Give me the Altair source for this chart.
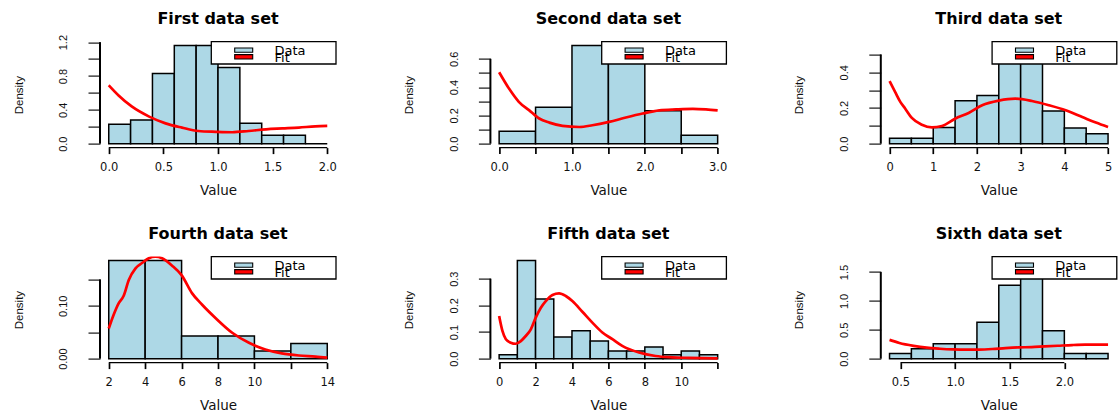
import altair as alt
import pandas as pd

TITLES = ["First data set", "Second data set", "Third data set",
          "Fourth data set", "Fifth data set", "Sixth data set"]
LEGEND_LABELS = ["Data", "Fit"]
X_TITLE = "Value"
Y_TITLE = "Density"

# Histogram breaks and bin densities
FIRST_BREAKS = [0.0, 0.2, 0.4, 0.6, 0.8, 1.0, 1.2, 1.4, 1.6, 1.8, 2.0]
FIRST_DENSITY = [0.23, 0.28, 0.83, 1.16, 1.16, 0.90, 0.24, 0.10, 0.10, 0.0]
SECOND_BREAKS = [0.0, 0.5, 1.0, 1.5, 2.0, 2.5, 3.0]
SECOND_DENSITY = [0.088, 0.258, 0.694, 0.67, 0.232, 0.059]
THIRD_BREAKS = [0.0, 0.5, 1.0, 1.5, 2.0, 2.5, 3.0, 3.5, 4.0, 4.5, 5.0]
THIRD_DENSITY = [0.03, 0.03, 0.09, 0.24, 0.27, 0.55, 0.46, 0.183, 0.088, 0.056]
FOURTH_BREAKS = [2, 4, 6, 8, 10, 12, 14]
FOURTH_DENSITY = [0.1857, 0.1857, 0.0429, 0.0429, 0.0143, 0.0286]
FIFTH_BREAKS = [0, 1, 2, 3, 4, 5, 6, 7, 8, 9, 10, 11, 12]
FIFTH_DENSITY = [0.015, 0.368, 0.224, 0.081, 0.105, 0.066, 0.029, 0.029,
                 0.044, 0.015, 0.029, 0.015]
SIXTH_BREAKS = [0.4, 0.6, 0.8, 1.0, 1.2, 1.4, 1.6, 1.8, 2.0, 2.2, 2.4]
SIXTH_DENSITY = [0.089, 0.171, 0.26, 0.26, 0.632, 1.27, 1.70, 0.484, 0.089, 0.089]

# Fitted density curves
FIRST_FIT_X = [0, 0.09, 0.21, 0.37, 0.52, 0.67, 0.82, 0.98, 1.13, 1.28, 1.44,
               1.59, 1.74, 1.89, 2.0]
FIRST_FIT_Y = [0.69, 0.57, 0.44, 0.32, 0.24, 0.19, 0.15, 0.14, 0.135, 0.15,
               0.17, 0.18, 0.19, 0.205, 0.21]
SECOND_FIT_X = [0, 0.14, 0.27, 0.41, 0.55, 0.69, 0.87, 1.1, 1.28, 1.51, 1.74,
                1.97, 2.2, 2.43, 2.66, 2.84, 3.0]
SECOND_FIT_Y = [0.505, 0.386, 0.296, 0.237, 0.178, 0.149, 0.126, 0.118, 0.13,
                0.154, 0.185, 0.213, 0.235, 0.242, 0.246, 0.242, 0.235]
THIRD_FIT_X = [0, 0.13, 0.25, 0.36, 0.51, 0.74, 0.97, 1.2, 1.5, 1.81, 2.12,
               2.5, 2.88, 3.26, 3.65, 4.03, 4.41, 4.72, 5.0]
THIRD_FIT_Y = [0.351, 0.289, 0.233, 0.196, 0.144, 0.106, 0.091, 0.099, 0.14,
               0.172, 0.215, 0.241, 0.252, 0.239, 0.215, 0.187, 0.149, 0.118, 0.093]
FOURTH_FIT_X = [2, 2.27, 2.55, 2.82, 3.1, 3.47, 3.83, 4.2, 4.56, 4.93, 5.48,
                6.0, 6.57, 7.13, 7.86, 8.78, 9.7, 10.6, 11.5, 12.44, 13.36, 14]
FOURTH_FIT_Y = [0.057, 0.083, 0.105, 0.119, 0.149, 0.171, 0.181, 0.19, 0.193,
                0.19, 0.176, 0.158, 0.124, 0.102, 0.077, 0.049, 0.03, 0.0175,
                0.01, 0.006, 0.004, 0.002]
FIFTH_FIT_X = [0, 0.18, 0.37, 0.64, 0.91, 1.19, 1.46, 1.74, 2.01, 2.29, 2.56,
               2.93, 3.29, 3.66, 4.02, 4.57, 5.12, 5.67, 6.22, 6.76, 7.68, 8.59,
               9.5, 10.4, 12]
FIFTH_FIT_Y = [0.16, 0.104, 0.073, 0.06, 0.056, 0.066, 0.085, 0.11, 0.154,
               0.191, 0.216, 0.239, 0.245, 0.235, 0.216, 0.176, 0.135, 0.098,
               0.073, 0.048, 0.023, 0.01, 0.005, 0.003, 0.001]
SIXTH_FIT_X = [0.4, 0.49, 0.62, 0.74, 0.86, 0.98, 1.1, 1.22, 1.34, 1.46, 1.58,
               1.7, 1.82, 1.94, 2.07, 2.19, 2.4]
SIXTH_FIT_Y = [0.325, 0.272, 0.222, 0.19, 0.172, 0.16, 0.155, 0.157, 0.167,
               0.183, 0.195, 0.2, 0.213, 0.224, 0.236, 0.242, 0.242]

# Axis ticks and which of them carry a label
X_TICKS = [[0, 0.5, 1, 1.5, 2], [0, 0.5, 1, 1.5, 2, 2.5, 3], [0, 1, 2, 3, 4, 5],
           [2, 4, 6, 8, 10, 12, 14], [0, 2, 4, 6, 8, 10, 12], [0.5, 1, 1.5, 2]]
X_LABELED = [[0, 0.5, 1, 1.5, 2], [0, 1, 2, 3], [0, 1, 2, 3, 4, 5],
             [2, 4, 6, 8, 10, 14], [0, 2, 4, 6, 8, 10], [0.5, 1, 1.5, 2]]
X_FORMATS = [".1f", ".1f", "d", "d", "d", ".1f"]
Y_TICKS = [[0, 0.2, 0.4, 0.6, 0.8, 1.0, 1.2], [0, 0.1, 0.2, 0.3, 0.4, 0.5, 0.6],
           [0, 0.1, 0.2, 0.3, 0.4, 0.5], [0, 0.05, 0.1, 0.15], [0, 0.1, 0.2, 0.3],
           [0, 0.5, 1, 1.5]]
Y_LABELED = [[0, 0.4, 0.8, 1.2], [0, 0.2, 0.4, 0.6], [0, 0.2, 0.4], [0, 0.1],
             [0, 0.1, 0.2, 0.3], [0, 0.5, 1, 1.5]]
Y_FORMATS = [".1f", ".1f", ".1f", ".2f", ".1f", ".1f"]

BREAKS = [FIRST_BREAKS, SECOND_BREAKS, THIRD_BREAKS, FOURTH_BREAKS, FIFTH_BREAKS, SIXTH_BREAKS]
DENSITY = [FIRST_DENSITY, SECOND_DENSITY, THIRD_DENSITY, FOURTH_DENSITY, FIFTH_DENSITY, SIXTH_DENSITY]
FIT_X = [FIRST_FIT_X, SECOND_FIT_X, THIRD_FIT_X, FOURTH_FIT_X, FIFTH_FIT_X, SIXTH_FIT_X]
FIT_Y = [FIRST_FIT_Y, SECOND_FIT_Y, THIRD_FIT_Y, FOURTH_FIT_Y, FIFTH_FIT_Y, SIXTH_FIT_Y]

W, H = 236, 106
WIDE = "DejaVu Sans"
NARROW = "Liberation Sans"
BAR_FILL = "#ADD8E6"


def label_expr(labeled):
    arr = ",".join(repr(float(v)) for v in labeled)
    return f"indexof([{arr}], datum.value) >= 0 ? datum.label : ''"


def panel(i):
    breaks, dens = BREAKS[i], DENSITY[i]
    bars = pd.DataFrame({"lo": breaks[:-1], "hi": breaks[1:], "density": dens})
    fit = pd.DataFrame({"lo": FIT_X[i], "density": FIT_Y[i]})

    span = breaks[-1] - breaks[0]
    top = max(dens)
    xscale = alt.Scale(domain=[breaks[0] - 0.04 * span, breaks[-1] + 0.04 * span],
                       nice=False, zero=False)
    yscale = alt.Scale(domain=[-0.04 * top, 1.04 * top], nice=False, zero=False)

    xaxis = alt.Axis(values=X_TICKS[i], format=X_FORMATS[i], labelExpr=label_expr(X_LABELED[i]),
                     domain=False, grid=False, tickSize=6, tickWidth=1.7, tickColor="black",
                     labelFont=WIDE, labelFontSize=11.5, labelColor="#111111",
                     labelBaseline="alphabetic", labelPadding=16.7, labelFlush=False,
                     labelOverlap=False, titleFont=WIDE, titleFontSize=13.5,
                     titleFontWeight="normal", titleColor="#111111", titleBaseline="alphabetic",
                     titleX=W / 2, titleY=47.3, titleAlign="center")
    yaxis = alt.Axis(values=Y_TICKS[i], format=Y_FORMATS[i], labelExpr=label_expr(Y_LABELED[i]),
                     domain=False, grid=False, tickSize=12, tickWidth=1.1, tickColor="black",
                     labelAngle=270, labelAlign="center", labelBaseline="alphabetic",
                     labelPadding=21.3, labelFont=NARROW, labelFontSize=11, labelColor="#111111",
                     labelFlush=False, labelOverlap=False, titleFont=NARROW, titleFontSize=11.5,
                     titleFontWeight="normal", titleColor="#111111", titleAngle=270,
                     titleAlign="center", titleBaseline="alphabetic", titleX=-78, titleY=H / 2)

    x = alt.X("lo:Q", scale=xscale, axis=xaxis, title=X_TITLE)
    y = alt.Y("density:Q", scale=yscale, axis=yaxis, title=Y_TITLE)

    hist = alt.Chart(bars).mark_rect(fill=BAR_FILL, stroke="black", strokeWidth=1.5).encode(
        x=x, x2="hi:Q", y=y, y2=alt.datum(0))
    curve = alt.Chart(fit).mark_line(color="red", strokeWidth=2.7, clip=True,
                                     interpolate="monotone").encode(x=x, y=y)

    xt, yt = X_TICKS[i], Y_TICKS[i]
    xline = alt.Chart(pd.DataFrame({"lo": [xt[0]], "hi": [xt[-1]]})).mark_rule(
        color="black", strokeWidth=1.3).encode(x=x, x2="hi:Q", y=alt.value(H))
    yline = alt.Chart(pd.DataFrame({"density": [yt[0]], "d2": [yt[-1]]})).mark_rule(
        color="black", strokeWidth=2).encode(y=y, y2="d2:Q", x=alt.value(0))

    one = pd.DataFrame({"k": [0]})
    heading = alt.Chart(one).mark_text(text=TITLES[i], align="center", baseline="alphabetic",
                                       font=WIDE, fontSize=16, fontWeight="bold",
                                       color="black").encode(
        x=alt.value(W / 2), y=alt.value(-17.4))
    box = alt.Chart(one).mark_rect(fill="white", stroke="black", strokeWidth=1.3).encode(
        x=alt.value(W - 124.7), x2=alt.value(W), y=alt.value(0), y2=alt.value(22.4))
    sym_data = alt.Chart(one).mark_rect(fill=BAR_FILL, stroke="black", strokeWidth=1.1).encode(
        x=alt.value(W - 101.3), x2=alt.value(W - 83.3), y=alt.value(6.4), y2=alt.value(10.7))
    sym_fit = alt.Chart(one).mark_rect(fill="red", stroke="black", strokeWidth=1.1).encode(
        x=alt.value(W - 101.3), x2=alt.value(W - 83.3), y=alt.value(13.0), y2=alt.value(17.4))
    txt_data = alt.Chart(one).mark_text(text=LEGEND_LABELS[0], align="left", baseline="alphabetic",
                                        font=WIDE, fontSize=13, color="black").encode(
        x=alt.value(W - 61.5), y=alt.value(13.4))
    txt_fit = alt.Chart(one).mark_text(text=LEGEND_LABELS[1], align="left", baseline="alphabetic",
                                       font=WIDE, fontSize=13, color="black").encode(
        x=alt.value(W - 61.5), y=alt.value(20.0))

    return alt.layer(hist, curve, xline, yline, heading, box, sym_data, sym_fit,
                     txt_data, txt_fit).properties(width=W, height=H)


chart = alt.concat(*[panel(i) for i in range(6)], columns=3,
                   spacing={"row": 109, "column": 154.4}, bounds="flush").properties(
    padding={"left": 13, "top": 10.6, "right": 0, "bottom": 0},
    background="white",
).configure_view(stroke=None)

chart.save("out.html", embed_options={"renderer": "svg", "actions": False})
